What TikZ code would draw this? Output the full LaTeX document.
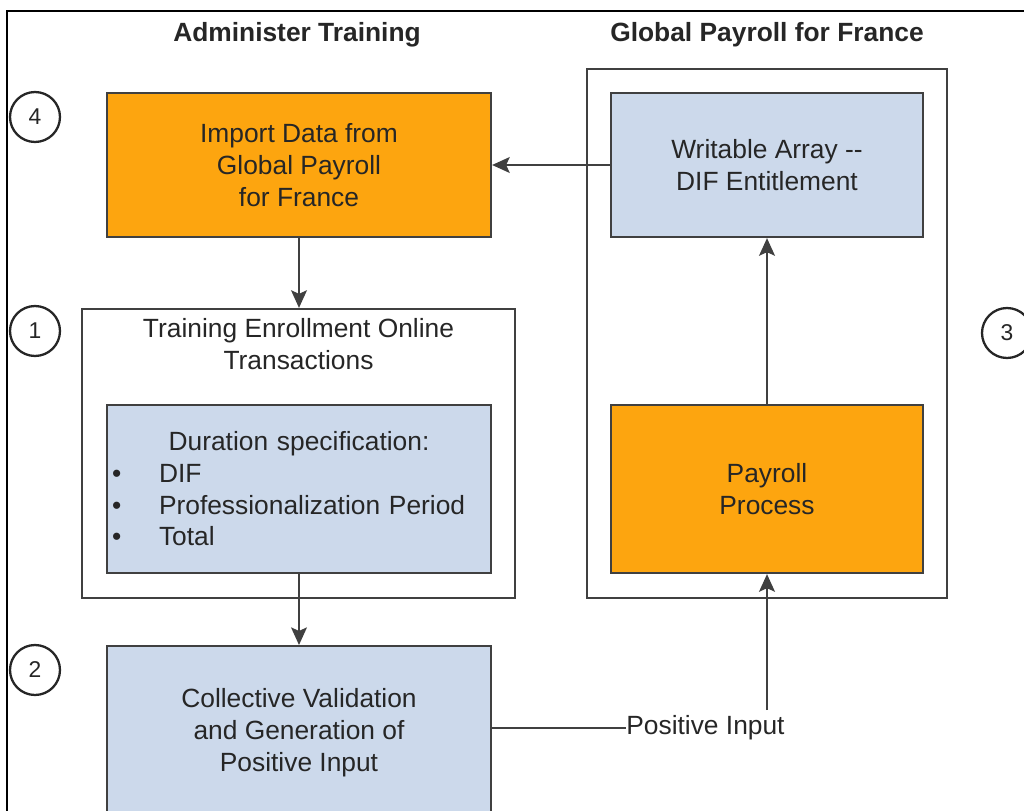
\documentclass[tikz,border=0pt]{standalone}
\usepackage{fontspec}
\setmainfont{Liberation Sans}
\usepackage{tikz}
\usetikzlibrary{positioning,arrows.meta,calc}
\definecolor{ink}      {HTML}{262626}
\definecolor{wire}     {HTML}{404040}
\definecolor{tangerine}{HTML}{FDA50F}
\definecolor{haze}     {HTML}{CCD9EB}
\colorlet{taskfill}{tangerine}
\colorlet{infofill}{haze}
\tikzset{
  every node/.style={font=\fontsize{15}{18}\selectfont, text=ink},
  % --- nodes
  box/.style   = {draw=wire, line width=1.3pt, align=center, inner sep=0pt,
                  minimum width=7.68cm, minimum height=2.88cm},
  task/.style  = {box, fill=taskfill},
  info/.style  = {box, fill=infofill},
  hold/.style  = {box, fill=white},
  plain/.style = {inner sep=0pt, align=center},
  head/.style  = {plain, font=\fontsize{15}{18}\selectfont\bfseries},
  % --- edges
  e/.style     = {-{Stealth[length=10pt,width=9pt,inset=2pt]}, line width=1.2pt, draw=wire},
  link/.style  = {line width=1.2pt, draw=wire},
  frame/.style = {line width=0.8pt, draw=black},
}
\begin{document}
\begin{tikzpicture}[x=0.02cm, y=-0.02cm,
  badge/.style={circle, draw=ink, line width=1.3pt, minimum size=1cm, inner sep=0pt,
                font=\fontsize{13}{13}\selectfont},
]
  \useasboundingbox (0,0) rectangle (1024,811);
  \draw[frame] (7,811) -- (7,11) -- (1024,11);

  % headings
  \node[head] (hadmin) at (297,35) {Administer Training};
  \node[head] (hpay)   at (767,35) {Global Payroll for France};

  % containers
  \node[hold, minimum width=7.2cm, minimum height=10.58cm] (payframe) at (767,333.5) {};
  \node[hold, minimum width=8.66cm, minimum height=5.78cm] (enroll) at (298.5,453.5) {};
  \node[plain, anchor=north, yshift=-0.21cm] (enrolltitle) at (enroll.north)
    {Training Enrollment Online\\Transactions};

  % boxes
  \node[task] (import) at (299,165) {Import Data from\\Global Payroll\\for France};
  \node[info, minimum width=6.24cm] (array) at (767,165) {Writable Array -{}-\\DIF Entitlement};
  \node[task, minimum width=6.24cm, minimum height=3.36cm] (payroll) at (767,489) {Payroll\\Process};
  \node[info, minimum height=3.36cm, text width=7.48cm, inner xsep=0.1cm, align=left] (duration) at (299,489)
    {\makebox[\linewidth][c]{Duration specification:}\\
     \makebox[0.94cm][l]{\textbullet}DIF\\
     \makebox[0.94cm][l]{\textbullet}Professionalization Period\\
     \makebox[0.94cm][l]{\textbullet}Total};
  \node[info, anchor=north, minimum height=0pt, text height=2.5cm, text depth=1.2cm] (collect) at (299,645)
    {Collective Validation\\and Generation of\\Positive Input};
  \node[plain, inner ysep=3pt, anchor=west] (posin) at (626,728) {Positive Input};

  % step numbers
  \node[badge] (n4) at (35,117) {4};
  \node[badge] (n1) at (35,331) {1};
  \node[badge] (n2) at (35,670) {2};
  \node[badge] (n3) at (1007,333) {3};

  % flow
  \draw[e] (array) -- (import);
  \draw[e] (import.south) -- (import.south |- enroll.north);
  \draw[e] (duration.south) -- (duration.south |- collect.north);
  \draw[link] (collect.east |- posin.west) -- (posin.west);
  \draw[e] (posin.north -| payroll.south) -- (payroll.south);
  \draw[e] (payroll) -- (array);
\end{tikzpicture}
\end{document}
